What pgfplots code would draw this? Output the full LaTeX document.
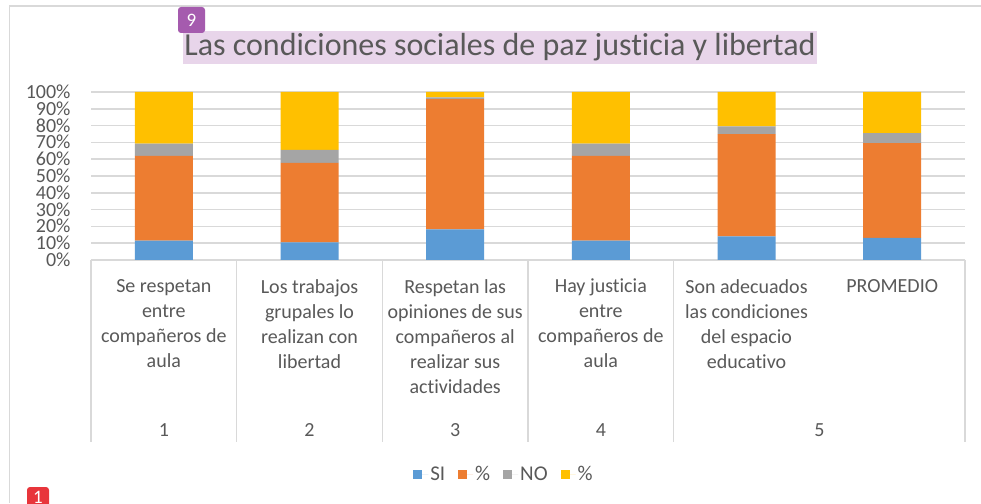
\documentclass[border=0pt]{standalone}
\usepackage{pgfplots}
\pgfplotsset{compat=1.18}
\usepackage{fontspec}
\setmainfont{Carlito}[Ligatures=CommonOff,RawFeature=-liga]
\definecolor{cSI}{HTML}{5B9BD5}
\definecolor{cA}{HTML}{ED7D31}
\definecolor{cNO}{HTML}{A5A5A5}
\definecolor{cB}{HTML}{FFC000}
\definecolor{txt}{HTML}{595959}
\definecolor{gridc}{HTML}{D9D9D9}
\definecolor{titlebg}{HTML}{E8D5EA}
\definecolor{badgeP}{HTML}{A55BAE}
\definecolor{badgeR}{HTML}{E8353B}
\newcommand\lbl{\fontsize{20pt}{25pt}\selectfont}
\begin{document}
\begin{tikzpicture}[x=1pt,y=1pt]
\useasboundingbox (0,0) rectangle (981,503);
\begin{scope}
\clip (0,0) rectangle (981,503);
\fill[white] (0,0) rectangle (981,503);
\draw[gridc, line width=1.5pt] (9.5,0) -- (9.5,497) -- (985,497);
\node[fill=titlebg, inner xsep=1pt, inner ysep=0pt, minimum height=33pt, text=txt,
      font=\fontsize{32pt}{38pt}\selectfont] at (500,455.5) {Las condiciones sociales de paz justicia y libertad};
\node[fill=badgeP, rounded corners=3pt, text=white, font=\fontsize{19pt}{20pt}\selectfont,
      minimum width=27pt, minimum height=26pt, inner sep=0pt] at (191.5,483) {9};
\fill[badgeR, rounded corners=3pt] (27,-10) rectangle (49,16);
\node[text=white, font=\fontsize{19pt}{20pt}\selectfont, inner sep=0pt, anchor=north] at (38,12) {1};
\begin{axis}[
  at={(91pt,243pt)}, anchor=south west,
  scale only axis, width=874pt, height=168pt,
  ybar stacked, bar width=58pt,
  xmin=-0.5, xmax=5.5, ymin=0, ymax=100,
  xtick=\empty,
  ytick={0,10,...,100},
  yticklabels={0\%,10\%,20\%,30\%,40\%,50\%,60\%,70\%,80\%,90\%,100\%},
  yticklabel style={font=\lbl, text=txt, xshift=-17pt, inner ysep=0pt, text height=13pt, text depth=0pt},
  ymajorgrids, grid style={gridc, line width=1.5pt},
  axis line style={draw=none}, tick style={draw=none},
  clip=false,
  legend columns=4,
  legend style={at={(0.4725,-1.274)}, anchor=center, draw=none, fill=none,
    font=\fontsize{21pt}{26pt}\selectfont, text=txt,
    /tikz/every even column/.append style={column sep=11pt}},
  legend image code/.code={\fill[#1] (0pt,-4.5pt) rectangle (9pt,4.5pt); \path (0pt,0pt) -- (15pt,0pt);},
]
\addplot[fill=cSI, draw=none] coordinates {(0,11.6) (1,10.5) (2,18.3) (3,11.6) (4,14.1) (5,13.2)};
\addplot[fill=cA, draw=none] coordinates {(0,50.4) (1,47.3) (2,77.5) (3,50.4) (4,60.8) (5,56.3)};
\addplot[fill=cNO, draw=none] coordinates {(0,7.2) (1,7.8) (2,1.0) (3,7.2) (4,4.7) (5,6.0)};
\addplot[fill=cB, draw=none] coordinates {(0,30.8) (1,34.4) (2,3.2) (3,30.8) (4,20.4) (5,24.5)};
\legend{SI,\%,NO,\%}
\pgfplotsinvokeforeach{-0.5,0.5,1.5,2.5,3.5,5.5}{
  \draw[gridc, line width=1.5pt] (axis cs:#1,0) -- ++(0pt,-182pt);
}
\node[anchor=north, align=center, font=\lbl, text=txt, inner sep=0pt, yshift=-19pt] at (axis cs:0,0) {Se respetan\\entre\\compañeros de\\aula};
\node[anchor=north, align=center, font=\lbl, text=txt, inner sep=0pt, yshift=-19pt] at (axis cs:1,0) {Los trabajos\\grupales lo\\realizan con\\libertad};
\node[anchor=north, align=center, font=\lbl, text=txt, inner sep=0pt, yshift=-19pt] at (axis cs:2,0) {Respetan las\\opiniones de sus\\compañeros al\\realizar sus\\actividades};
\node[anchor=north, align=center, font=\lbl, text=txt, inner sep=0pt, yshift=-19pt] at (axis cs:3,0) {Hay justicia\\entre\\compañeros de\\aula};
\node[anchor=north, align=center, font=\lbl, text=txt, inner sep=0pt, yshift=-19pt] at (axis cs:4,0) {Son adecuados\\las condiciones\\del espacio\\educativo};
\node[anchor=north, align=center, font=\lbl, text=txt, inner sep=0pt, yshift=-19pt] at (axis cs:5,0) {PROMEDIO};
\node[font=\lbl, text=txt, yshift=-170pt] at (axis cs:0,0) {1};
\node[font=\lbl, text=txt, yshift=-170pt] at (axis cs:1,0) {2};
\node[font=\lbl, text=txt, yshift=-170pt] at (axis cs:2,0) {3};
\node[font=\lbl, text=txt, yshift=-170pt] at (axis cs:3,0) {4};
\node[font=\lbl, text=txt, yshift=-170pt] at (axis cs:4.5,0) {5};
\end{axis}
\end{scope}
\end{tikzpicture}
\end{document}
